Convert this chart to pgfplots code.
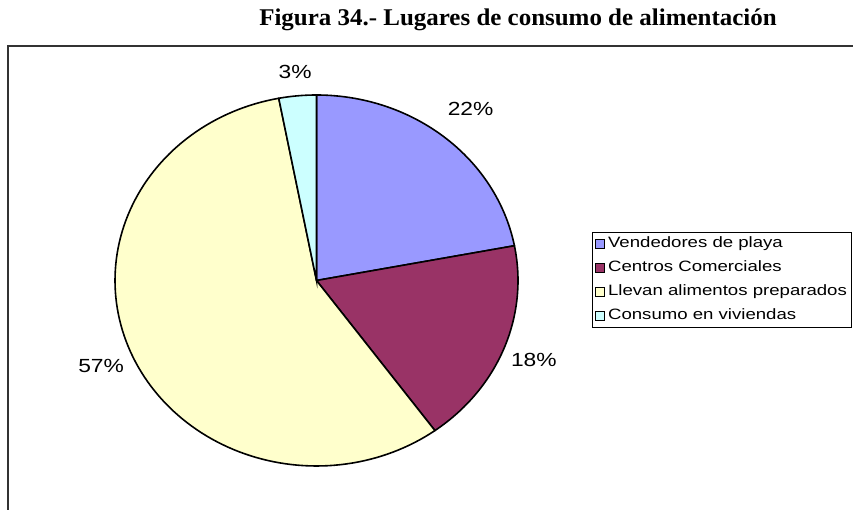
\documentclass[border=0pt]{standalone}
\usepackage{fontspec}
\setmainfont{Liberation Sans}
\newfontfamily\titlefont{Liberation Serif}
\usepackage{graphicx}
\usepackage{pgfplots}
\usepackage{pgfplotstable}
\pgfplotsset{compat=1.18}
\definecolor{c1}{HTML}{9999FF}
\definecolor{c2}{HTML}{993366}
\definecolor{c3}{HTML}{FFFFCC}
\definecolor{c4}{HTML}{CCFFFF}

\pgfplotstableread{
value
22
18
57
3
}\piedata

\begin{document}
\begin{tikzpicture}
\pgfplotstablegetelem{0}{value}\of\piedata \pgfmathsetmacro\va{\pgfplotsretval}
\pgfplotstablegetelem{1}{value}\of\piedata \pgfmathsetmacro\vb{\pgfplotsretval}
\pgfplotstablegetelem{2}{value}\of\piedata \pgfmathsetmacro\vc{\pgfplotsretval}
\pgfplotstablegetelem{3}{value}\of\piedata \pgfmathsetmacro\vd{\pgfplotsretval}
\pgfmathsetmacro\aA{90}
\pgfmathsetmacro\aB{\aA-3.6*\va}
\pgfmathsetmacro\aC{\aB-3.6*\vb}
\pgfmathsetmacro\aD{\aC-3.6*\vc}
\pgfmathsetmacro\aE{\aD-3.6*\vd}
\pgfmathsetmacro\mA{(\aA+\aB)/2}
\pgfmathsetmacro\mB{(\aB+\aC)/2}
\pgfmathsetmacro\mC{(\aC+\aD)/2}
\pgfmathsetmacro\mD{(\aD+\aE)/2}

\path[use as bounding box] (0,0) rectangle (853pt,510pt);
\draw[line width=1.3pt, black!80] (8pt,0pt) -- (8pt,464pt) -- (853pt,464pt);
\node[font=\titlefont\bfseries\fontsize{24}{28}\selectfont, xscale=1.04, anchor=base, inner sep=0pt] at (518pt,484pt) {Figura 34.- Lugares de consumo de alimentación};

\begin{axis}[at={(316.5pt,229.5pt)}, anchor=center, scale only axis,
  width=403pt, height=371pt, xmin=-1, xmax=1, ymin=-1, ymax=1,
  hide axis, clip=false,
  legend style={at={(1.1836,0.6307)}, anchor=north west, draw=black, line width=0.8pt,
    font=\fontsize{15}{17}\selectfont, inner xsep=3pt, inner ysep=3.5pt, row sep=8pt,
    nodes={inner sep=1pt, text height=11pt, text depth=3pt}},
  legend cell align=left,
  legend image code/.code={\draw[#1, draw=black, line width=0.7pt] (0pt,-4.5pt) rectangle (9pt,4.5pt);}
]
\addplot[fill=c1, draw=black, line width=1.6pt, domain=\aB:\aA, samples=60, variable=\t] ({cos(\t)},{sin(\t)}) -- (axis cs:0,0) -- cycle;
\addlegendentry{\hspace*{2pt}\scalebox{1.24}[1]{Vendedores de playa}}
\addplot[fill=c2, draw=black, line width=1.6pt, domain=\aC:\aB, samples=60, variable=\t] ({cos(\t)},{sin(\t)}) -- (axis cs:0,0) -- cycle;
\addlegendentry{\hspace*{2pt}\scalebox{1.24}[1]{Centros Comerciales}}
\addplot[fill=c3, draw=black, line width=1.6pt, domain=\aD:\aC, samples=120, variable=\t] ({cos(\t)},{sin(\t)}) -- (axis cs:0,0) -- cycle;
\addlegendentry{\hspace*{2pt}\scalebox{1.24}[1]{Llevan alimentos preparados}}
\addplot[fill=c4, draw=black, line width=1.6pt, domain=\aE:\aD, samples=20, variable=\t] ({cos(\t)},{sin(\t)}) -- (axis cs:0,0) -- cycle;
\addlegendentry{\hspace*{2pt}\scalebox{1.24}[1]{Consumo en viviendas}}

\node[font=\fontsize{19}{21}\selectfont, xscale=1.2] at (axis cs:{1.2*cos(\mA)},{1.2*sin(\mA)}) {22\%};
\node[font=\fontsize{19}{21}\selectfont, xscale=1.2] at (axis cs:{1.16*cos(\mB)},{1.16*sin(\mB)}) {18\%};
\node[font=\fontsize{19}{21}\selectfont, xscale=1.2] at (axis cs:{1.165*cos(\mC)},{1.165*sin(\mC)}) {57\%};
\node[font=\fontsize{19}{21}\selectfont, xscale=1.2] at (axis cs:{1.13*cos(\mD)},{1.13*sin(\mD)}) {3\%};
\end{axis}
\end{tikzpicture}
\end{document}
